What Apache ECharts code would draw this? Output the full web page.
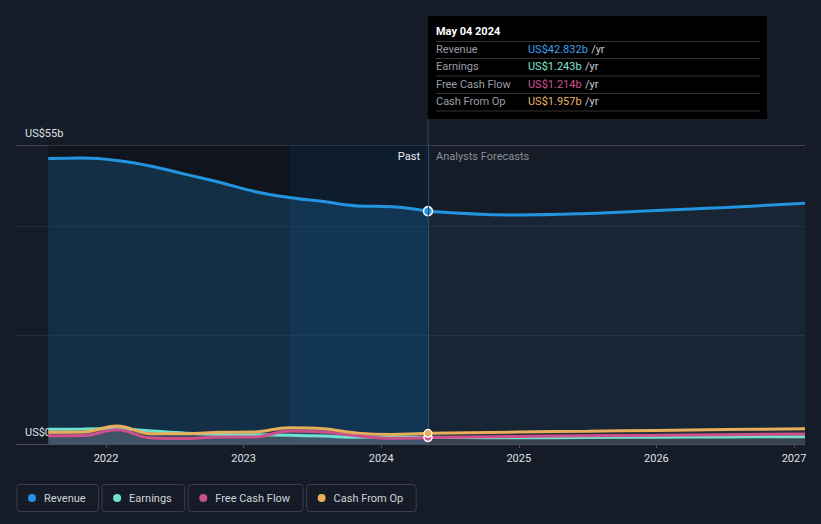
<!DOCTYPE html>
<html><head><meta charset="utf-8">
<script src="https://cdn.jsdelivr.net/npm/echarts@6/dist/echarts.min.js"></script>
<style>html,body{margin:0;padding:0;background:#161c27;}#c{width:821px;height:524px;}</style>
</head><body><div id="c"></div>
<script>
// ---- data ----
const pastDates       = [2021.58, 2021.83, 2022.08, 2022.33, 2022.58, 2022.83, 2023.08, 2023.33, 2023.58, 2023.83, 2024.08, 2024.34];
const revenuePast     = [52.5, 52.6, 52.15, 51.1, 49.6, 48.1, 46.45, 45.35, 44.6, 43.8, 43.65, 42.832];
const earningsPast    = [2.7, 2.75, 2.8, 2.4, 2.0, 1.75, 1.7, 1.6, 1.45, 1.25, 1.3, 1.243];
const fcfPast         = [1.5, 1.55, 2.6, 1.1, 1.0, 1.3, 1.3, 2.4, 2.2, 1.5, 1.05, 1.214];
const cfoPast         = [2.15, 2.2, 3.3, 1.9, 1.9, 2.15, 2.2, 3.0, 2.8, 2.0, 1.75, 1.957];
const forecastDates   = [2024.34, 2025.0, 2025.5, 2026.0, 2026.5, 2027.08];
const revenueForecast = [42.832, 42.13, 42.4, 42.95, 43.5, 44.3];
const earningsForecast= [1.243, 1.15, 1.2, 1.25, 1.3, 1.35];
const fcfForecast     = [1.214, 1.4, 1.5, 1.6, 1.72, 1.85];
const cfoForecast     = [1.957, 2.2, 2.35, 2.5, 2.65, 2.8];
const xTickYears      = [2022, 2023, 2024, 2025, 2026, 2027];
const highlightStart  = 2023.34;
const tooltipDate     = 'May 04 2024';
const seriesNames     = ['Revenue', 'Earnings', 'Free Cash Flow', 'Cash From Op'];

const colors = {'Revenue':'#2394df','Earnings':'#6fe3cf','Free Cash Flow':'#cf4f8c','Cash From Op':'#e8ae5a'};
const valColors = {'Revenue':'#3aa0f0','Earnings':'#7fe8d4','Free Cash Flow':'#d0508f','Cash From Op':'#eab464'};
const FONT = 'Roboto, "Noto Sans", sans-serif';

const pair = (xs, ys) => xs.map((x, i) => [x, ys[i]]);
const lastIdx = pastDates.length - 1;

function areaSeries(past, fut) {
  return [
    {name:'_a', type:'line', smooth:0.4, data:pair(pastDates, past), symbol:'none',
     lineStyle:{width:0, opacity:0}, areaStyle:{color:'rgba(150,150,160,0.2)'}, z:5, silent:true},
    {name:'_a', type:'line', smooth:0.4, data:pair(forecastDates, fut), symbol:'none',
     lineStyle:{width:0, opacity:0}, areaStyle:{color:'rgba(150,150,160,0.14)'}, z:5, silent:true}
  ];
}
function smallSeries(name, past, fut) {
  const c = colors[name];
  return [
    {name, type:'line', smooth:0.4, data:pair(pastDates, past), color:c,
     symbol:'circle', showSymbol:true,
     symbolSize:(v,p)=> p.dataIndex===lastIdx ? 8 : 0,
     itemStyle:{color:c, borderColor:'#ffffff', borderWidth:1.2},
     lineStyle:{width:3, color:c}, z:6, silent:true},
    {name, type:'line', smooth:0.4, data:pair(forecastDates, fut), color:c, symbol:'none',
     lineStyle:{width:3, color:c}, z:6, silent:true}
  ];
}

const chart = echarts.init(document.getElementById('c'), null, {renderer:'svg'});
const option = {
  backgroundColor:'#161c27',
  animation:false,
  textStyle:{fontFamily:FONT},
  grid:{left:16, right:16, top:145, bottom:80},
  xAxis:{type:'value', min:2021.346, max:2027.08,
    axisLine:{show:true, lineStyle:{color:'#4a4e57'}},
    axisTick:{show:true, length:4, lineStyle:{color:'#4a4e57'}, customValues:xTickYears},
    axisLabel:{color:'#dde0e5', fontSize:11, margin:9, customValues:xTickYears, formatter:v=>String(Math.round(v))},
    splitLine:{show:false}},
  yAxis:{type:'value', min:0, max:55, interval:20,
    axisLine:{show:false}, axisTick:{show:false},
    axisLabel:{inside:true, margin:9, align:'left', verticalAlign:'bottom', padding:[0,0,6,0],
      color:'#dde0e5', fontSize:11,
      formatter:v=> v===0 ? 'US$0' : (v===55 ? 'US$55b' : '')},
    splitLine:{show:true, lineStyle:{color:['#4a4e57','#262d38','#262d38','#44474f'], width:1}}},
  legend:{left:11, top:484, padding:0, itemGap:-3, itemWidth:0, itemHeight:0, icon:'circle', selectedMode:false,
    data:seriesNames,
    formatter:name=>`{d${seriesNames.indexOf(name)}| }{t|${name}}`,
    textStyle:{color:'#cfd3da', fontSize:11, fontFamily:FONT, padding:[7,13,7,11],
      borderColor:'#3a3f4a', borderWidth:1, borderRadius:3,
      rich:{
        d0:{width:8,height:8,borderRadius:4,backgroundColor:colors['Revenue']},
        d1:{width:8,height:8,borderRadius:4,backgroundColor:colors['Earnings']},
        d2:{width:8,height:8,borderRadius:4,backgroundColor:colors['Free Cash Flow']},
        d3:{width:8,height:8,borderRadius:4,backgroundColor:colors['Cash From Op']},
        t:{padding:[0,0,0,8], color:'#cfd3da', fontSize:11, lineHeight:13, fontFamily:FONT}
      }}},
  series:[
    {name:'Revenue', type:'line', smooth:0.4, data:pair(pastDates, revenuePast), color:colors['Revenue'],
     symbol:'circle', showSymbol:true, symbolSize:(v,p)=> p.dataIndex===lastIdx ? 9 : 0,
     itemStyle:{color:colors['Revenue'], borderColor:'#ffffff', borderWidth:1.5},
     lineStyle:{width:3, color:colors['Revenue']}, areaStyle:{color:'rgba(35,148,223,0.30)'}, z:4, silent:true,
     markArea:{silent:true, data:[
       [{xAxis:pastDates[0], itemStyle:{color:'rgba(0,0,0,0.25)'}}, {xAxis:highlightStart}],
       [{xAxis:highlightStart, itemStyle:{color:'rgba(5,30,55,0.45)'}}, {xAxis:pastDates[lastIdx]}]
     ]},
     markLine:{silent:true, symbol:'none', label:{show:false}, lineStyle:{color:'#2c4c6c', width:1, type:'solid'},
       data:[{xAxis:pastDates[lastIdx]}]}},
    {name:'Revenue', type:'line', smooth:0.4, data:pair(forecastDates, revenueForecast), color:colors['Revenue'],
     symbol:'none', lineStyle:{width:3, color:colors['Revenue']}, areaStyle:{color:'rgba(35,148,223,0.11)'}, z:4, silent:true},
    ...areaSeries(earningsPast, earningsForecast),
    ...areaSeries(fcfPast, fcfForecast),
    ...areaSeries(cfoPast, cfoForecast),
    ...smallSeries('Earnings', earningsPast, earningsForecast),
    ...smallSeries('Free Cash Flow', fcfPast, fcfForecast),
    ...smallSeries('Cash From Op', cfoPast, cfoForecast)
  ]
};
chart.setOption(option);

// overlay: tooltip box and Past/Forecast labels anchored at the current date
const nowX = chart.convertToPixel({xAxisIndex:0}, pastDates[lastIdx]);
const topY = chart.convertToPixel({yAxisIndex:0}, 55);
const rows = [
  ['Revenue', revenuePast[lastIdx]],
  ['Earnings', earningsPast[lastIdx]],
  ['Free Cash Flow', fcfPast[lastIdx]],
  ['Cash From Op', cfoPast[lastIdx]]
];
const g = [
  {type:'line', shape:{x1:nowX, y1:119, x2:nowX, y2:topY}, style:{stroke:'#2c4c6c', lineWidth:1}, z:10},
  {type:'rect', shape:{x:nowX, y:16, width:339, height:103}, style:{fill:'#000000'}, z:20},
  {type:'text', x:nowX+8, y:31, style:{text:tooltipDate, fill:'#ffffff', font:'bold 11px '+FONT, verticalAlign:'middle'}, z:21},
  {type:'text', x:nowX-8, y:156, style:{text:'Past', fill:'#eeeeee', font:'11px '+FONT, align:'right', verticalAlign:'middle'}, z:21},
  {type:'text', x:nowX+8, y:156, style:{text:'Analysts Forecasts', fill:'#8a8f98', font:'11px '+FONT, align:'left', verticalAlign:'middle'}, z:21}
];
const sepY = [41.5, 58.5, 76, 93.5, 111];
sepY.forEach(y=>g.push({type:'line', shape:{x1:nowX+8, y1:y, x2:nowX+332, y2:y}, style:{stroke:'#333333', lineWidth:1}, z:21}));
const rowY = [49.5, 66.5, 84.5, 101.5];
rows.forEach((r,i)=>{
  g.push({type:'text', x:nowX+8, y:rowY[i], style:{text:r[0], fill:'#9a9ea6', font:'11px '+FONT, verticalAlign:'middle'}, z:21});
  g.push({type:'text', x:nowX+100, y:rowY[i], style:{
    text:`{v|US$${r[1].toFixed(3)}b} {u|/yr}`, verticalAlign:'middle',
    rich:{v:{fill:valColors[r[0]], font:'11px '+FONT}, u:{fill:'#c8ccd2', font:'11px '+FONT}}}, z:21});
});
chart.setOption({graphic:g});
</script></body></html>
